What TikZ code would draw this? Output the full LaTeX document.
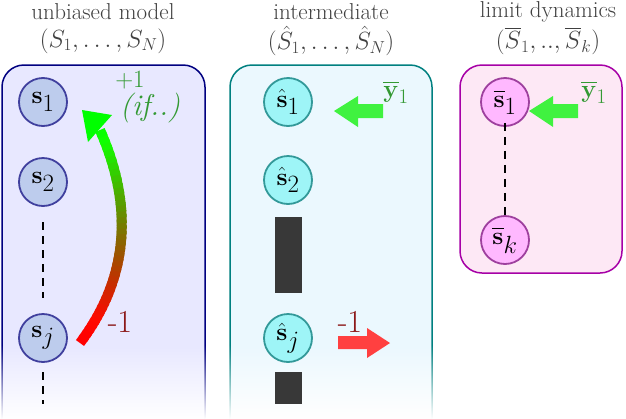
\documentclass[tikz,border=0pt]{standalone}
\usepackage{amsmath,amssymb}
\usetikzlibrary{fadings}
\definecolor{bfill}{rgb}{0.74,0.80,0.93}
\definecolor{bdraw}{rgb}{0.25,0.25,0.62}
\definecolor{cfill}{rgb}{0.62,0.96,0.97}
\definecolor{cdraw}{rgb}{0.2,0.6,0.6}
\definecolor{pfill}{rgb}{1.0,0.72,1.0}
\definecolor{pdraw}{rgb}{0.62,0.25,0.62}
\definecolor{garrow}{rgb}{0.25,0.95,0.25}
\definecolor{rarrow}{rgb}{1.0,0.25,0.25}
\definecolor{glbl}{rgb}{0.2,0.6,0.2}
\definecolor{rlbl}{rgb}{0.55,0.1,0.1}
\begin{document}
\begin{tikzpicture}[x=1pt,y=-1pt,
  ttl/.style={text=black!75,font=\fontsize{23}{26}\selectfont},
  nd/.style={circle,minimum size=48pt,inner sep=0pt,line width=1.8pt,font=\fontsize{34}{36}\selectfont},
  bnode/.style={nd,draw=bdraw,fill=bfill},
  cnode/.style={nd,draw=cdraw,fill=cfill},
  pnode/.style={nd,draw=pdraw,fill=pfill},
  lbl/.style={font=\fontsize{32}{34}\selectfont},
  dsh/.style={line width=1.4pt,dash pattern=on 8pt off 6pt}]
\useasboundingbox (0,0) rectangle (626,418);
% panels
\draw[line width=1.5pt,draw=blue!50!black,fill=blue!9,rounded corners=22pt] (2,440) -- (2,65) -- (205,65) -- (205,440) -- cycle;
\draw[line width=1.5pt,draw=teal,fill=cyan!8,rounded corners=22pt] (230,440) -- (230,65) -- (432,65) -- (432,440) -- cycle;
\draw[line width=1.5pt,draw=violet!70!magenta,fill=magenta!9,rounded corners=22pt] (460,65) rectangle (622,273);
\fill[white,path fading=north] (0,345) rectangle (626,419);
% titles
\node[ttl] (t1) at (103,12) {unbiased model};
\node[ttl] (t1b) at (103,41) {$(S_1,\ldots,S_N)$};
\node[ttl] (t2) at (331,12) {intermediate};
\node[ttl] (t2b) at (331,41) {$(\hat S_1,\ldots,\hat S_N)$};
\node[ttl] (t3) at (548,12) {limit dynamics};
\node[ttl] (t3b) at (548,41) {$(\overline{S}_1,..,\overline{S}_k)$};
% left
\node[bnode] (s1) at (43,102) {$\mathbf{s}_1$};
\node[bnode] (s2) at (43,182) {$\mathbf{s}_2$};
\node[bnode] (sj) at (43,338) {$\mathbf{s}_j$};
\coordinate (d0) at (43,222); \coordinate (d1) at (43,298);
\coordinate (d2) at (43,372); \coordinate (d3) at (43,404);
\draw[dsh] (d0) -- (d1);
\draw[dsh] (d2) -- (d3);
\foreach \i in {0,...,39}{
  \pgfmathsetmacro{\ta}{\i/40}\pgfmathsetmacro{\tb}{min(1,(\i+1.6)/40)}
  \pgfmathsetmacro{\xa}{(1-\ta)^3*80+3*(1-\ta)^2*\ta*120+3*(1-\ta)*\ta^2*140+\ta^3*100}
  \pgfmathsetmacro{\ya}{(1-\ta)^3*343+3*(1-\ta)^2*\ta*290+3*(1-\ta)*\ta^2*220+\ta^3*130}
  \pgfmathsetmacro{\xb}{(1-\tb)^3*80+3*(1-\tb)^2*\tb*120+3*(1-\tb)*\tb^2*140+\tb^3*100}
  \pgfmathsetmacro{\yb}{(1-\tb)^3*343+3*(1-\tb)^2*\tb*290+3*(1-\tb)*\tb^2*220+\tb^3*130}
  \pgfmathsetmacro{\cr}{max(0,min(1,1.15*(1-\ta)))}
  \pgfmathsetmacro{\cg}{min(1,\ta^1.6*1.1)}
  \definecolor{segc}{rgb}{\cr,\cg,0}
  \draw[line width=10pt,segc] (\xa,\ya) -- (\xb,\yb);
}
\fill[green] (82,110) -- (112,115) -- (88,142) -- cycle;
\node[lbl,text=glbl] (p1) at (130,80) {$+1$};
\node[text=glbl,font=\fontsize{30}{32}\selectfont\itshape] (if) at (150,108) {(if..)};
\node[lbl,text=rlbl] (m1) at (120,322) {-1};
% middle
\node[cnode] (h1) at (288,102) {$\hat{\mathbf{s}}_1$};
\node[cnode] (h2) at (288,180) {$\hat{\mathbf{s}}_2$};
\node[cnode] (hj) at (288,338) {$\hat{\mathbf{s}}_j$};
\fill[black!78] (275,217) rectangle (302,293);
\fill[black!78] (275,372) rectangle (302,404);
\fill[garrow] (383,104) -- (358,104) -- (358,96) -- (334,111) -- (358,127) -- (358,118) -- (383,118) -- cycle;
\node[lbl,text=glbl] (y1) at (396,92) {$\overline{\mathbf{y}}_1$};
\fill[rarrow] (338,336) -- (367,336) -- (367,328) -- (390,343) -- (367,358) -- (367,349) -- (338,349) -- cycle;
\node[lbl,text=rlbl] (m2) at (350,322) {-1};
% right
\node[pnode] (b1) at (505,102) {$\overline{\mathbf{s}}_1$};
\node[pnode] (bk) at (505,240) {$\overline{\mathbf{s}}_k$};
\draw[dsh] ([yshift=4pt]b1.south) -- ([yshift=-4pt]bk.north);
\fill[garrow] (578,104) -- (553,104) -- (553,96) -- (529,111) -- (553,127) -- (553,118) -- (578,118) -- cycle;
\node[lbl,text=glbl] (y2) at (594,92) {$\overline{\mathbf{y}}_1$};
\end{tikzpicture}
\end{document}
